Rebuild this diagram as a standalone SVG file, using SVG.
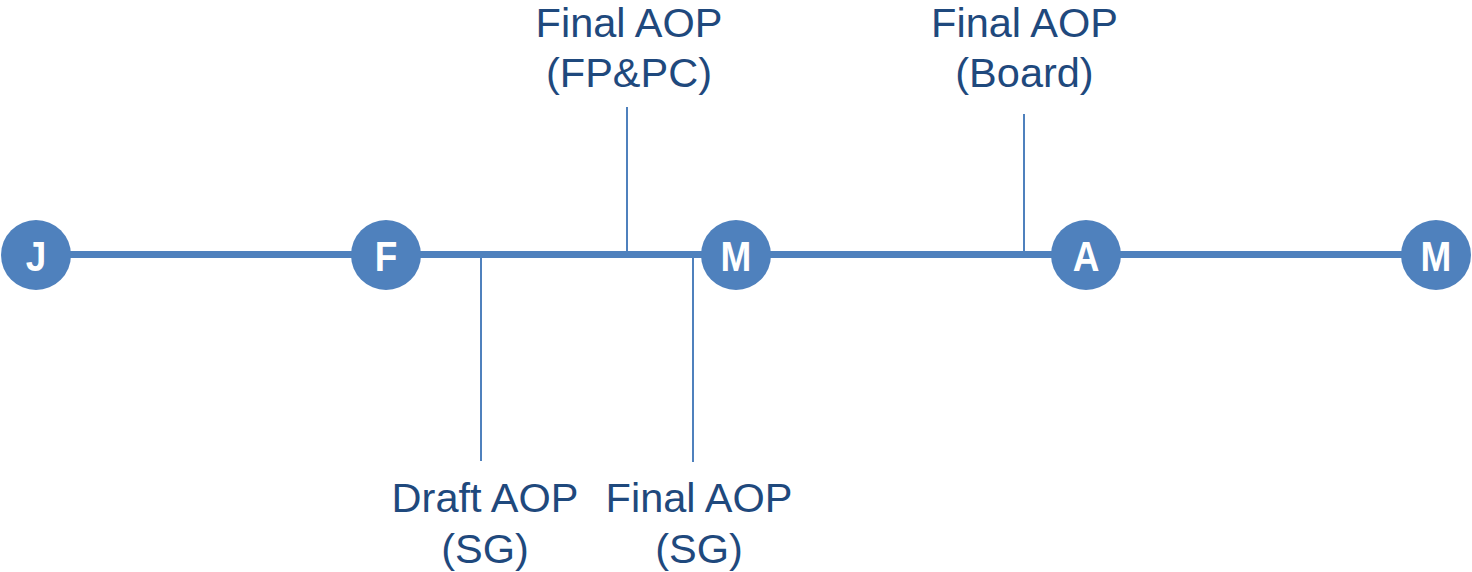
<svg xmlns="http://www.w3.org/2000/svg" width="1472" height="572" viewBox="0 0 1472 572">
<style>
.lbl{font-family:"Liberation Sans",Arial,sans-serif;font-size:41.5px;fill:#1F497D;text-anchor:middle}
.node circle{fill:#4F81BD}
.node text{font-family:"Liberation Sans",Arial,sans-serif;font-size:42px;font-weight:bold;fill:#FFFFFF;text-anchor:middle}
.tick{stroke:#4F81BD;stroke-width:2;fill:none}
.axis{stroke:#4F81BD;stroke-width:7;fill:none}
</style>
<rect width="1472" height="572" fill="#FFFFFF"/>
<g id="connectors">
<line class="axis" x1="36" y1="254.5" x2="1436" y2="254.5"/>
<line class="tick" x1="627" y1="107" x2="627" y2="254"/>
<line class="tick" x1="1024" y1="114" x2="1024" y2="254"/>
<line class="tick" x1="481" y1="255" x2="481" y2="461"/>
<line class="tick" x1="693" y1="255" x2="693" y2="462"/>
</g>
<g id="node-J" class="node"><circle cx="36" cy="255" r="35"/><text transform="translate(36,271) scale(0.88,1)">J</text></g>
<g id="node-F" class="node"><circle cx="386" cy="255" r="35"/><text transform="translate(386,271) scale(0.88,1)">F</text></g>
<g id="node-M1" class="node"><circle cx="736" cy="255" r="35"/><text transform="translate(736,271) scale(0.88,1)">M</text></g>
<g id="node-A" class="node"><circle cx="1086" cy="255" r="35"/><text transform="translate(1086,271) scale(0.88,1)">A</text></g>
<g id="node-M2" class="node"><circle cx="1436" cy="255" r="35"/><text transform="translate(1436,271) scale(0.88,1)">M</text></g>
<g id="label-fppc"><text class="lbl" x="629" y="37">Final AOP</text><text class="lbl" x="629" y="87">(FP&amp;PC)</text></g>
<g id="label-board"><text class="lbl" x="1024.5" y="37">Final AOP</text><text class="lbl" x="1024.5" y="87">(Board)</text></g>
<g id="label-draft-sg"><text class="lbl" x="485" y="512">Draft AOP</text><text class="lbl" x="485" y="563">(SG)</text></g>
<g id="label-final-sg"><text class="lbl" x="699" y="512">Final AOP</text><text class="lbl" x="699" y="563">(SG)</text></g>
</svg>
